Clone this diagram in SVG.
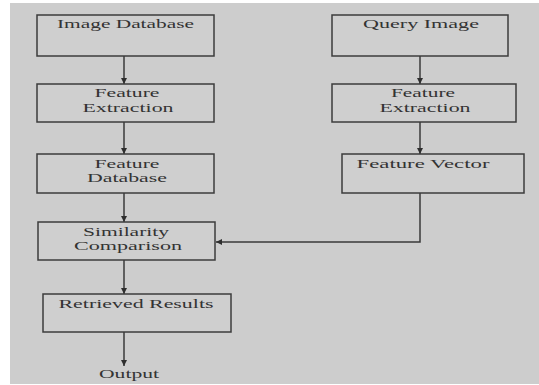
<svg xmlns="http://www.w3.org/2000/svg" width="539" height="385" viewBox="0 0 539 385">
  <style>
    .box { fill: #cfcfcf; stroke: #3c3c3c; stroke-width: 1.5; }
    .lbl { font-family: "Liberation Serif", "Times New Roman", serif; font-size: 12.5px; fill: #333333; text-anchor: middle; }
    .wire { fill: none; stroke: #3a3a3a; stroke-width: 1.5; }
  </style>
  <defs>
    <marker id="arrow" viewBox="0 0 10 10" refX="10" refY="5" markerWidth="6" markerHeight="6" markerUnits="userSpaceOnUse" orient="auto">
      <path d="M0,0 L10,5 L0,10 z" fill="#2e2e2e"/>
    </marker>
  </defs>

  <rect x="0" y="0" width="539" height="385" fill="#ffffff"/>
  <rect x="10" y="3" width="529" height="381" fill="#cdcdcd"/>

  <g id="connectors">
    <line class="wire" x1="124" y1="56" x2="124" y2="84" marker-end="url(#arrow)"/>
    <line class="wire" x1="124" y1="122" x2="124" y2="154" marker-end="url(#arrow)"/>
    <line class="wire" x1="124" y1="193" x2="124" y2="222" marker-end="url(#arrow)"/>
    <line class="wire" x1="124" y1="260" x2="124" y2="294" marker-end="url(#arrow)"/>
    <line class="wire" x1="124" y1="332" x2="124" y2="366" marker-end="url(#arrow)"/>
    <line class="wire" x1="420" y1="56" x2="420" y2="84" marker-end="url(#arrow)"/>
    <line class="wire" x1="420" y1="122" x2="420" y2="154" marker-end="url(#arrow)"/>
    <polyline class="wire" points="420,193 420,242 216,242" marker-end="url(#arrow)"/>
  </g>

  <g id="image-database">
    <rect class="box" x="37" y="15" width="177" height="41"/>
    <text class="lbl" x="125.5" y="28" textLength="137" lengthAdjust="spacingAndGlyphs">Image Database</text>
  </g>

  <g id="feature-extraction-left">
    <rect class="box" x="37" y="84" width="177" height="38"/>
    <text class="lbl" x="127" y="97" textLength="65" lengthAdjust="spacingAndGlyphs">Feature</text>
    <text class="lbl" x="128" y="112" textLength="91" lengthAdjust="spacingAndGlyphs">Extraction</text>
  </g>

  <g id="feature-database">
    <rect class="box" x="37" y="154" width="177" height="39"/>
    <text class="lbl" x="127" y="168" textLength="65" lengthAdjust="spacingAndGlyphs">Feature</text>
    <text class="lbl" x="127" y="182" textLength="80" lengthAdjust="spacingAndGlyphs">Database</text>
  </g>

  <g id="query-image">
    <rect class="box" x="332" y="15" width="176" height="41"/>
    <text class="lbl" x="421" y="28" textLength="116" lengthAdjust="spacingAndGlyphs">Query Image</text>
  </g>

  <g id="feature-extraction-right">
    <rect class="box" x="332" y="84" width="184" height="38"/>
    <text class="lbl" x="423" y="97" textLength="64" lengthAdjust="spacingAndGlyphs">Feature</text>
    <text class="lbl" x="425" y="112" textLength="91" lengthAdjust="spacingAndGlyphs">Extraction</text>
  </g>

  <g id="feature-vector">
    <rect class="box" x="342" y="154" width="182" height="39"/>
    <text class="lbl" x="423" y="168" textLength="133" lengthAdjust="spacingAndGlyphs">Feature Vector</text>
  </g>

  <g id="similarity-comparison">
    <rect class="box" x="38" y="222" width="177" height="38"/>
    <text class="lbl" x="126" y="236" textLength="86" lengthAdjust="spacingAndGlyphs">Similarity</text>
    <text class="lbl" x="128" y="250" textLength="108" lengthAdjust="spacingAndGlyphs">Comparison</text>
  </g>

  <g id="retrieved-results">
    <rect class="box" x="43" y="294" width="188" height="38"/>
    <text class="lbl" x="136" y="308" textLength="155" lengthAdjust="spacingAndGlyphs">Retrieved Results</text>
  </g>

  <g id="output">
    <text class="lbl" x="129" y="378" textLength="60" lengthAdjust="spacingAndGlyphs">Output</text>
  </g>
</svg>
